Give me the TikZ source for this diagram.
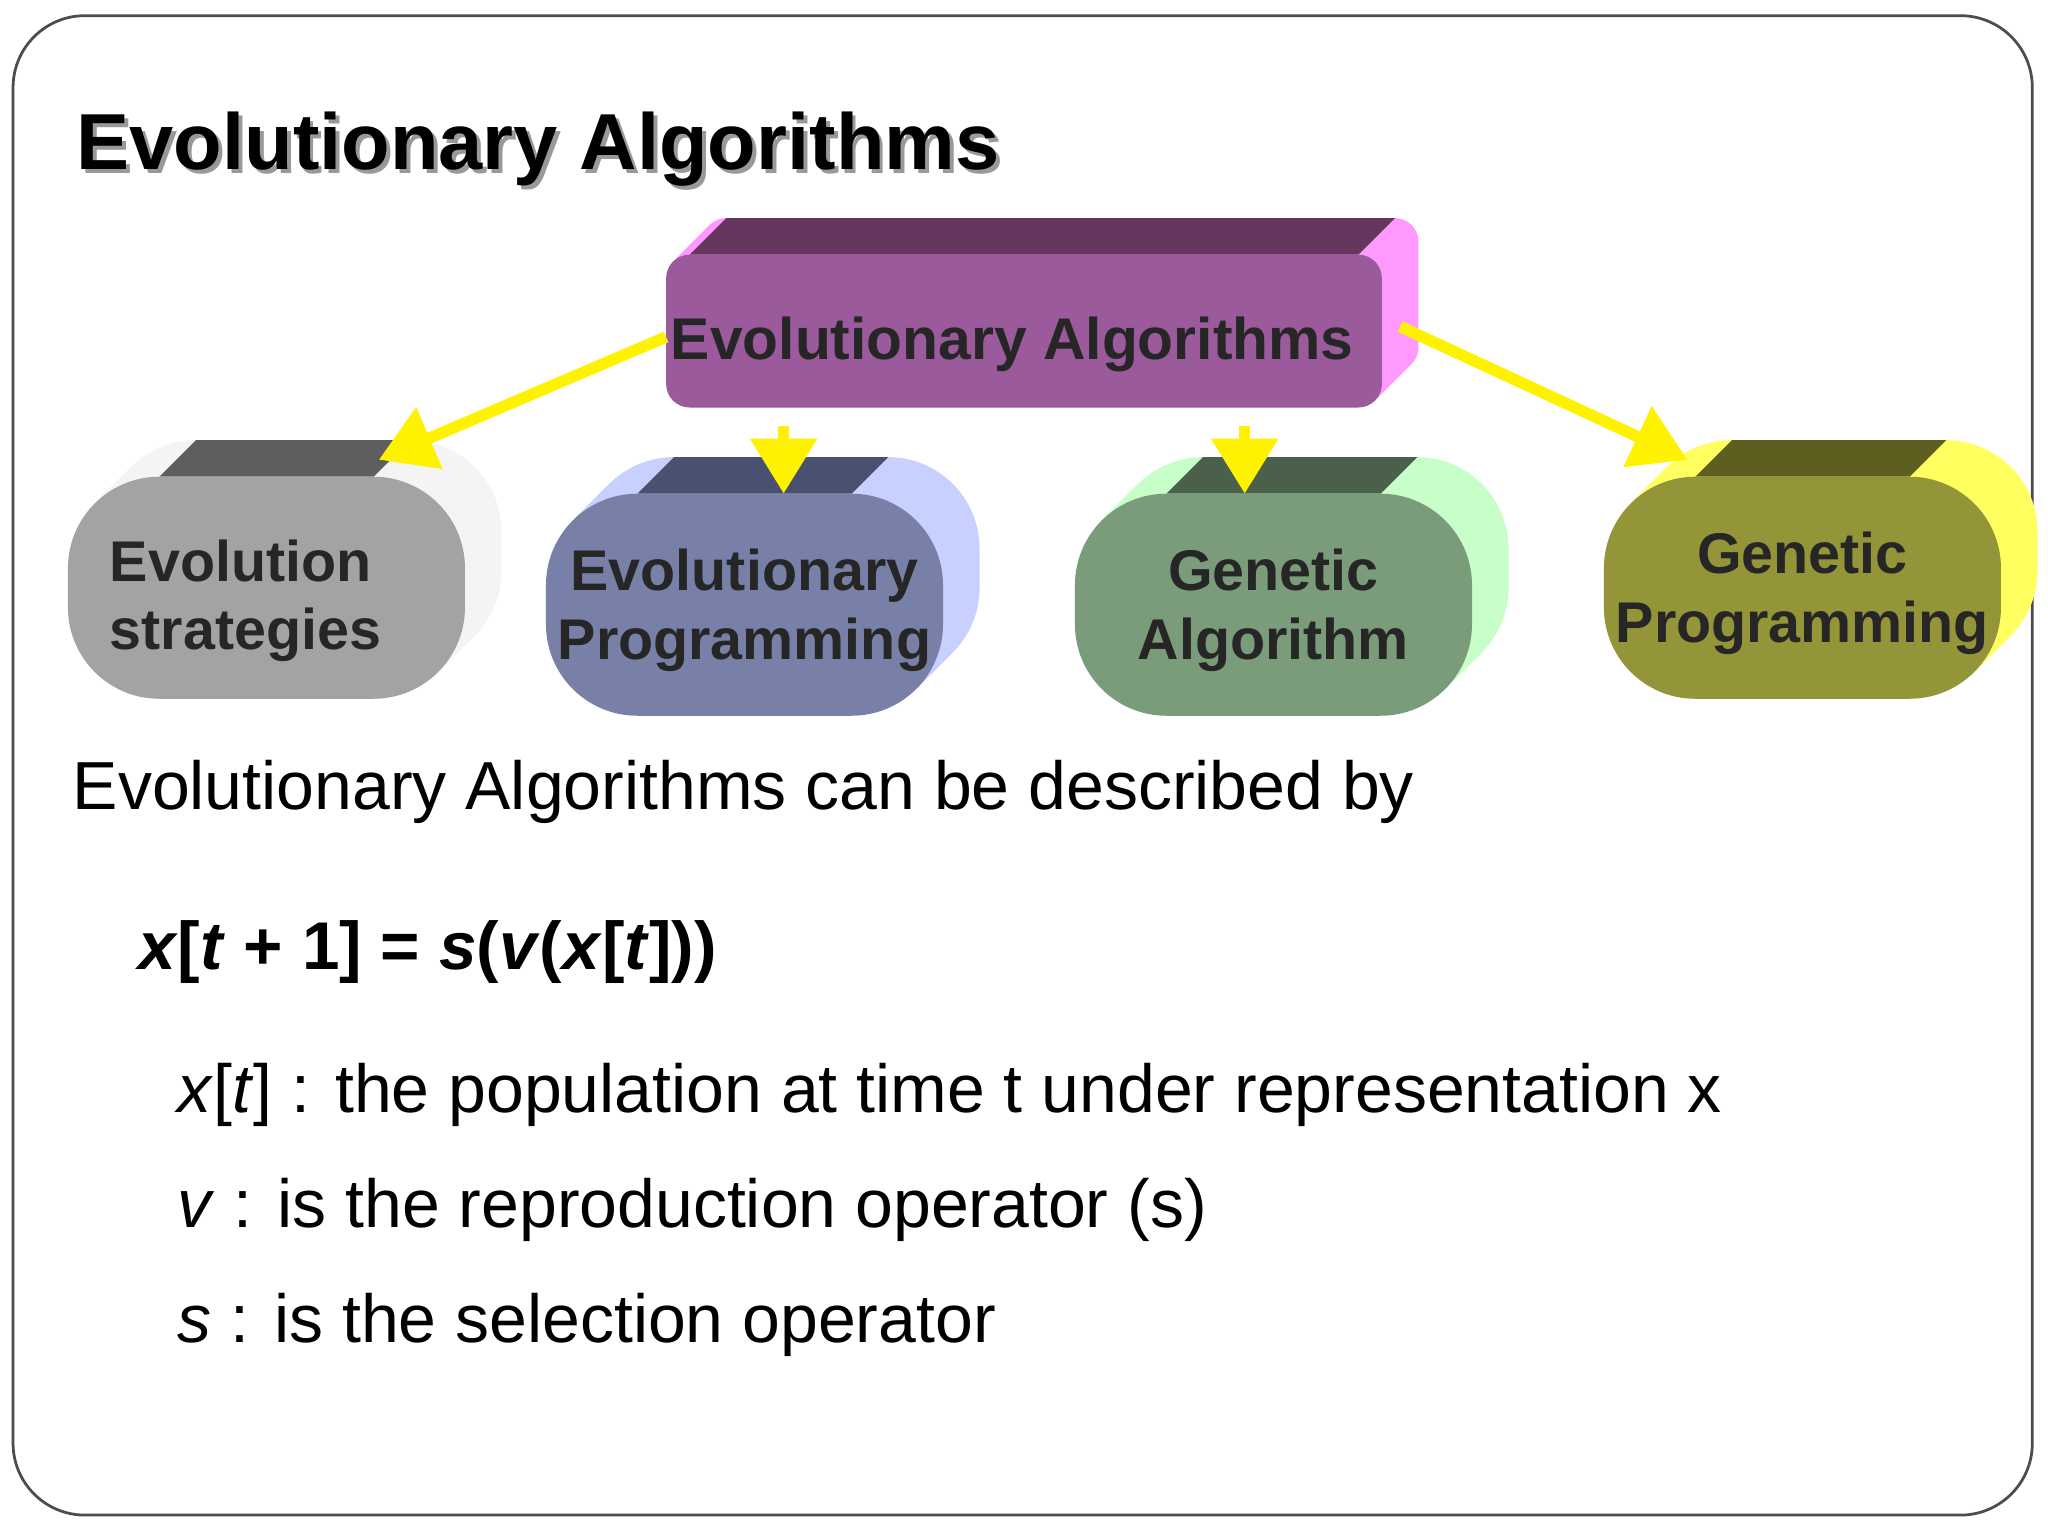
\documentclass[tikz,border=0pt]{standalone}
\usepackage{fontspec}
\setmainfont{Liberation Sans}
\usetikzlibrary{arrows.meta}
\definecolor{pfront}{HTML}{9B5A9B}\definecolor{ptop}{HTML}{66365F}\definecolor{pside}{HTML}{FF99FF}
\definecolor{gfront}{HTML}{A3A3A3}\definecolor{gtop}{HTML}{5E5E60}\definecolor{gside}{HTML}{F4F4F4}
\definecolor{bfront}{HTML}{7880A8}\definecolor{btop}{HTML}{4A5070}\definecolor{bside}{HTML}{C8D0FF}
\definecolor{nfront}{HTML}{7A9C7A}\definecolor{ntop}{HTML}{4A604A}\definecolor{nside}{HTML}{C8FFC8}
\definecolor{yfront}{HTML}{949438}\definecolor{ytop}{HTML}{5E5E20}\definecolor{yside}{HTML}{FFFF60}
\tikzset{
 arr/.style={draw=yellow,line width=2.5pt,-{Triangle[length=12pt,width=14pt]}},
 lbl/.style={font=\fontsize{12.5pt}{15pt}\selectfont\bfseries,align=center,text=black!85},
 body/.style={font=\fontsize{14.8pt}{17pt}\selectfont,anchor=base west,inner sep=0pt}
}
% #1 x1, #2 y1 (top), #3 x2, #4 y2, #5 radius, #6 front, #7 top, #8 side
\newcommand{\boxthree}[8]{%
 \foreach \i in {28,26,...,2}{\fill[#8,rounded corners=#5*0.01cm] ({#1+\i},{-#2+\i}) rectangle ({#3+\i},{-#4+\i});}
 \fill[#7] ({#1+#5},{-#2}) -- ({#1+#5+28},{-#2+28}) -- ({#3-#5+28},{-#2+28}) -- ({#3-#5},{-#2}) -- cycle;
 \fill[#6,rounded corners=#5*0.01cm] (#1,-#2) rectangle (#3,-#4);
}
\begin{document}
\begin{tikzpicture}[x=0.01cm,y=0.01cm]
\useasboundingbox (0,0) rectangle (1568,-1176);
\fill[white] (0,0) rectangle (1568,-1176);
\draw[black!70,line width=0.6pt,rounded corners=0.55cm] (10,-12) rectangle (1556,-1160);
\node[anchor=base west,inner sep=0pt,font=\fontsize{17.3pt}{20pt}\selectfont\bfseries,text=black!40] at (61,-133) {Evolutionary Algorithms};
\node[anchor=base west,inner sep=0pt,font=\fontsize{17.3pt}{20pt}\selectfont\bfseries] (title) at (58,-130) {Evolutionary Algorithms};
\boxthree{510}{195}{1058}{312}{18}{pfront}{ptop}{pside}
\boxthree{52}{365}{356}{535}{70}{gfront}{gtop}{gside}
\boxthree{418}{378}{722}{548}{70}{bfront}{btop}{bside}
\boxthree{823}{378}{1127}{548}{70}{nfront}{ntop}{nside}
\boxthree{1228}{365}{1532}{535}{70}{yfront}{ytop}{yside}
\node[lbl,font=\fontsize{12.8pt}{15pt}\selectfont\bfseries] (ea) at (775,-264) {Evolutionary Algorithms};
\node[lbl,align=left] (es) at (188,-460) {Evolution\\strategies};
\node[lbl] (ep) at (570,-467) {Evolutionary\\Programming};
\node[lbl] (ga) at (975,-467) {Genetic\\Algorithm};
\node[lbl] (gp) at (1380,-454) {Genetic\\Programming};
\coordinate (a1) at (510,-258); \coordinate (a2) at (1072,-250);
\coordinate (d1) at (600,-326); \coordinate (d2) at (953,-326);
\draw[arr] (a1) -- (290,-352);
\draw[arr] (d1) -- (600,-378);
\draw[arr] (d2) -- (953,-378);
\draw[arr] (a2) -- (1292,-352);
\node[body] (t1) at (55,-620) {Evolutionary Algorithms can be described by};
\node[body,font=\fontsize{14.7pt}{18pt}\selectfont\bfseries] (f) at (105,-742) {\textit{x}[\textit{t} + 1] = \textit{s}(\textit{v}(\textit{x}[\textit{t}]))};
\node[body] (l1) at (135,-852) {\textit{x}[\textit{t}] : the population at time t under representation x};
\node[body] (l2) at (135,-940) {\textit{v} : is the reproduction operator (s)};
\node[body] (l3) at (135,-1028) {\textit{s} : is the selection operator};
\end{tikzpicture}
\end{document}
